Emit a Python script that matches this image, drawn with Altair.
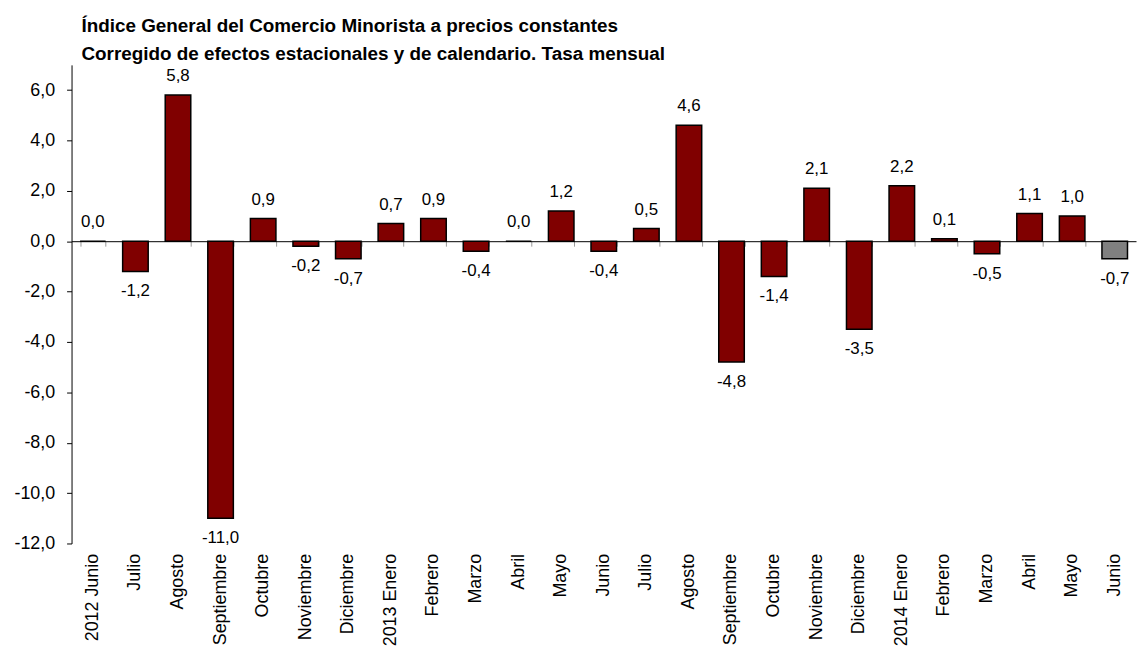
import altair as alt
import pandas as pd

labels = ["2012 Junio", "Julio", "Agosto", "Septiembre", "Octubre", "Noviembre", "Diciembre",
          "2013 Enero", "Febrero", "Marzo", "Abril", "Mayo", "Junio", "Julio", "Agosto",
          "Septiembre", "Octubre", "Noviembre", "Diciembre", "2014 Enero", "Febrero",
          "Marzo", "Abril", "Mayo", "Junio"]
values = [0.0, -1.2, 5.8, -11.0, 0.9, -0.2, -0.7, 0.7, 0.9, -0.4, 0.0, 1.2, -0.4, 0.5, 4.6,
          -4.8, -1.4, 2.1, -3.5, 2.2, 0.1, -0.5, 1.1, 1.0, -0.7]
colors = ["#800000"] * 24 + ["#808080"]

df = pd.DataFrame({
    "pos": list(range(len(labels))),
    "value": values,
    "color": colors,
    "txt": [f"{v:.1f}".replace(".", ",") for v in values],
})

FONT = "Liberation Sans"
W, H = 1072, 482
YMIN, YMAX = -12, 7
zero_offset = -H * (0 - YMIN) / (YMAX - YMIN)

label_arr = "[" + ",".join(f"'{l}'" for l in labels) + "]"

xscale = alt.Scale(paddingInner=0.4, paddingOuter=0.2)
yscale = alt.Scale(domain=[YMIN, YMAX], nice=False, zero=False)

base = alt.Chart(df)

bars = base.mark_bar(stroke="black", strokeWidth=1.5).encode(
    x=alt.X("pos:O", scale=xscale, sort=None,
            axis=alt.Axis(title=None, orient="bottom", domain=False, ticks=False, labelAngle=270,
                          labelAlign="right", labelBaseline="middle", labelPadding=10,
                          labelFont=FONT, labelFontSize=18, labelColor="black",
                          labelExpr=label_arr + "[datum.value]")),
    y=alt.Y("value:Q", scale=yscale,
            axis=alt.Axis(title=None, values=list(range(-12, 7, 2)), grid=False,
                          domainColor="black", tickColor="black", tickSize=5,
                          labelPadding=12, labelFont=FONT, labelFontSize=18,
                          labelColor="black",
                          labelExpr="replace(replace(format(datum.value, '.1f'), '.', ','), '\u2212', '-')")),
    color=alt.Color("color:N", scale=None),
)

zero_axis = base.mark_bar(opacity=0).encode(
    x=alt.X("pos:O", scale=xscale, sort=None,
            axis=alt.Axis(title=None, orient="bottom", labels=False, domainColor="black",
                          domainWidth=1, ticks=True, tickBand="extent", tickColor="#999999",
                          tickSize=5, offset=zero_offset)),
    y=alt.Y("value:Q", scale=yscale, axis=None),
)

pos_text = base.transform_filter("datum.value >= 0").mark_text(
    baseline="bottom", dy=-10, font=FONT, fontSize=17, color="black"
).encode(x=alt.X("pos:O", scale=xscale, sort=None, axis=None),
         y=alt.Y("value:Q", scale=yscale, axis=None), text="txt:N")

neg_text = base.transform_filter("datum.value < 0").mark_text(
    baseline="top", dy=12, font=FONT, fontSize=17, color="black"
).encode(x=alt.X("pos:O", scale=xscale, sort=None, axis=None),
         y=alt.Y("value:Q", scale=yscale, axis=None), text="txt:N")

chart = alt.layer(bars, zero_axis, pos_text, neg_text).resolve_axis(
    x="independent", y="independent"
).properties(
    width=W, height=H,
    autosize=alt.AutoSizeParams(type="none"),
    padding={"left": 64, "top": 55, "right": 1, "bottom": 104},
    title=alt.TitleParams(
        ["Índice General del Comercio Minorista a precios constantes",
         "Corregido de efectos estacionales y de calendario. Tasa mensual"],
        anchor="start", font=FONT, fontSize=19, fontWeight="bold", color="black",
        lineHeight=28, offset=1, dx=68),
).configure_view(stroke=None)

chart.save("out.html", embed_options={"renderer": "svg", "actions": False})
